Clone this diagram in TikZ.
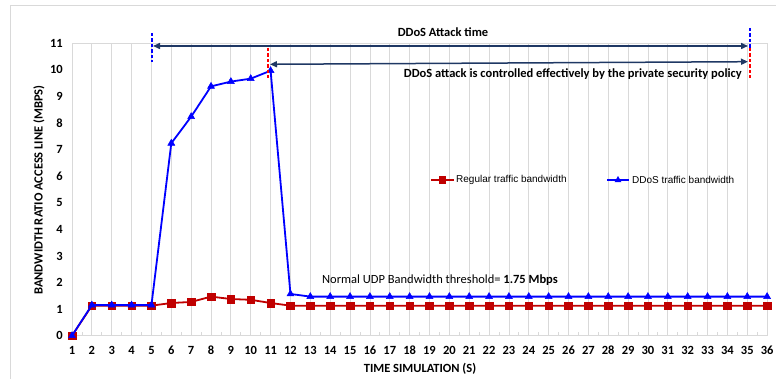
\documentclass[tikz,border=0pt]{standalone}
\usepackage{fontspec}
\setmainfont{Carlito}
\newfontfamily\arialfont{Liberation Sans}
\usetikzlibrary{arrows.meta,plotmarks}
\definecolor{gridgray}{RGB}{217,217,217}
\definecolor{navy}{RGB}{31,56,100}
\definecolor{darkred}{RGB}{192,0,0}
\definecolor{pureblue}{RGB}{0,0,255}
\tikzset{
  gridline/.style={draw=gridgray, line width=0.8pt},
  redseries/.style={darkred, line width=1.8pt, mark=square*, mark size=3.8pt, mark options={solid, fill=darkred, draw=darkred, line width=0.5pt}},
  blueseries/.style={pureblue, line width=1.8pt, mark=triangle*, mark size=4pt, mark options={solid, fill=pureblue, draw=pureblue, line width=0.5pt}},
  navyarrow/.style={draw=navy, line width=1.5pt, {Triangle[length=7pt,width=6pt]}-{Triangle[length=7pt,width=6pt]}},
  bluedash/.style={draw=pureblue, line width=1.3pt, dash pattern=on 3.5pt off 2pt},
  reddash/.style={draw=red, line width=1.3pt, dash pattern=on 3.5pt off 2pt},
  ticklab/.style={font=\bfseries\fontsize{12.5}{13}\selectfont, inner sep=0pt},
  annot/.style={font=\bfseries\fontsize{12.5}{14}\selectfont, inner sep=0pt},
  legtext/.style={font=\arialfont\fontsize{10}{12}\selectfont, anchor=west, inner sep=0pt},
  axislab/.style={font=\bfseries\fontsize{12.5}{14}\selectfont, inner sep=0pt}
}
\begin{document}
\begin{tikzpicture}[x=1pt,y=1pt]
\useasboundingbox (0,0) rectangle (776,379);
% outer frame
\coordinate (fbl) at (10,0);
\coordinate (ftl) at (10,373);
\coordinate (ftr) at (776,373);
\draw[gridgray, line width=1pt] (fbl) -- (ftl) -- (ftr);

\begin{scope}[shift={(52.14pt,43.3pt)}, x=19.86pt, y=26.58pt]
  % grid
  \foreach \i in {1,...,36} \draw[gridline] (\i,0) -- (\i,11);
  \draw[gridline] (1,11) -- (36,11);
  \draw[gridline] (1,0) -- (36,0);
  \foreach \i in {1,...,35} \draw[gridline] (\i+0.5,0) -- ++(0,4pt);
  % tick labels
  \foreach \v in {0,...,11} \node[ticklab, anchor=east] (yl\v) at ([xshift=-9pt]1,\v) {\v};
  \foreach \i in {1,...,36} \node[ticklab] (xl\i) at ([yshift=-15pt]\i,0) {\i};
  % series
  \draw[redseries] plot coordinates {(1,0) (2,1.13) (3,1.13) (4,1.13) (5,1.13) (6,1.23) (7,1.27) (8,1.47) (9,1.38) (10,1.35) (11,1.23) (12,1.13) (13,1.13) (14,1.13) (15,1.13) (16,1.13) (17,1.13) (18,1.13) (19,1.13) (20,1.13) (21,1.13) (22,1.13) (23,1.13) (24,1.13) (25,1.13) (26,1.13) (27,1.13) (28,1.13) (29,1.13) (30,1.13) (31,1.13) (32,1.13) (33,1.13) (34,1.13) (35,1.13) (36,1.13)};
  \draw[blueseries] plot coordinates {(1,0) (2,1.15) (3,1.15) (4,1.15) (5,1.15) (6,7.24) (7,8.24) (8,9.38) (9,9.56) (10,9.67) (11,9.97) (12,1.57) (13,1.47) (14,1.47) (15,1.47) (16,1.47) (17,1.47) (18,1.47) (19,1.47) (20,1.47) (21,1.47) (22,1.47) (23,1.47) (24,1.47) (25,1.47) (26,1.47) (27,1.47) (28,1.47) (29,1.47) (30,1.47) (31,1.47) (32,1.47) (33,1.47) (34,1.47) (35,1.47) (36,1.47)};
\end{scope}

% annotations
\coordinate (bd1t) at (152,346);
\coordinate (bd1b) at (152,317);
\draw[bluedash] (bd1t) -- (bd1b);
\coordinate (bd2t) at (750,351);
\coordinate (bd2b) at (750,331);
\draw[bluedash] (bd2t) -- (bd2b);
\coordinate (rd2t) at (750,331);
\coordinate (rd2b) at (750,301);
\draw[reddash] (rd2t) -- (rd2b);
\coordinate (rd1t) at (268,331);
\coordinate (rd1b) at (268,301);
\draw[reddash] (rd1t) -- (rd1b);

\coordinate (a1l) at (153,333);
\coordinate (a1r) at (748,333);
\draw[navyarrow] (a1l) -- (a1r);
\coordinate (a2l) at (270,314.7);
\coordinate (a2r) at (748,317.3);
\draw[navyarrow] (a2l) -- (a2r);

\node[annot] (t1) at (443,347) {DDoS Attack time};
\node[annot, anchor=east] (t2) at (742,304.5) {DDoS attack is controlled effectively by the private security policy};

\node[font=\fontsize{12.5}{14}\selectfont, inner sep=0pt] (thr) at (440,99) {Normal UDP Bandwidth threshold= \textbf{1.75 Mbps}};

% legend
\coordinate (lr1) at (431,199);
\coordinate (lr2) at (454,199);
\draw[darkred, line width=1.8pt] (lr1) -- (lr2);
\node[fill=darkred, minimum size=7.6pt, inner sep=0pt] (lrm) at (442.5,199) {};
\node[legtext] (lrt) at (456,199) {Regular traffic bandwidth};
\coordinate (lb1) at (607,199);
\coordinate (lb2) at (629,199);
\draw[pureblue, line width=1.8pt] (lb1) -- (lb2);
\draw[pureblue, fill=pureblue] (618,202.5) -- (614.9,197) -- (621.1,197) -- cycle;
\node[legtext] (lbt) at (632,199) {DDoS traffic bandwidth};

% axis titles
\node[axislab, rotate=90] (ylab) at (39,189) {BANDWIDTH RATIO ACCESS LINE (MBPS)};
\node[axislab] (xlab) at (420,10) {TIME SIMULATION (S)};
\end{tikzpicture}
\end{document}
